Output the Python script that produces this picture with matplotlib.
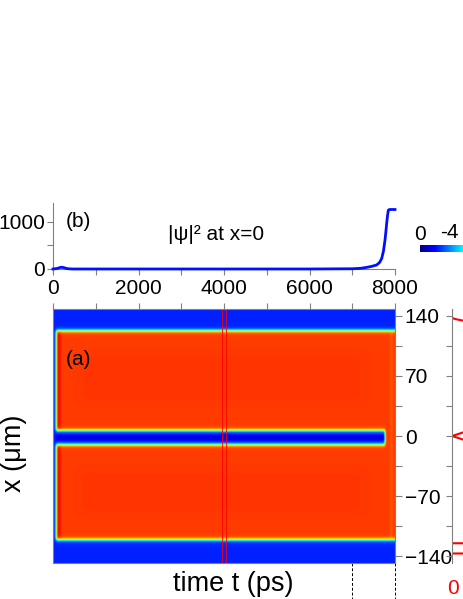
import numpy as np
import matplotlib
matplotlib.use("Agg")
import matplotlib.pyplot as plt
from matplotlib.ticker import MultipleLocator

plt.rcParams['font.family'] = ['Liberation Sans', 'DejaVu Sans']

# ---------------- data ----------------
# panel (b): |psi|^2 at x=0 vs time
t_b = [0, 100, 150, 200, 250, 300, 350, 450, 1000, 2000, 3000, 4000, 5000, 6000,
       7000, 7200, 7340, 7450, 7570, 7640, 7690, 7730, 7766, 7790, 7805, 7825,
       7844, 7870, 8000]
psi_b = [0, 12, 28, 38, 30, 15, 6, 0, 0, 0, 0, 0, 0, 0,
         5, 15, 35, 55, 85, 140, 226, 380, 613, 820, 966, 1130,
         1247, 1262, 1262]

# panel (a): density map features (position x in um, time t in ps)
band_edges_x = [123.0, 6.5, -10.0, -121.0]   # upper-top, upper-bottom, lower-top, lower-bottom
stripe_center_x = -1.8
domain_start_t = 70.0
stripe_end_t = 7770.0
levels = {'background': 0.16, 'domain': 0.845, 'inner': 0.852, 'stripe': 0.08,
          'left_rim': 0.91, 'right_rim': 0.80}
marker_t = [3960, 4040]          # red rectangle on the map
dashed_t = [7000, 8000]          # dashed guide lines below map

# right panel: red profile (position x vs value)
prof_x = [148, 137.5, 136, 134, 131, 125, 10, 6, 4.5, 2, 0, -2, -4.5, -6, -10,
          -124.9, -125, -136.9, -137, -148]
prof_v = [0, 0, 0.4, 1.2, 3, 6, 6, 2.5, 1.1, 0.5, 0, 0.5, 1.1, 2.5, 6,
          6, 0, 0, 6, 6]

y_ticks = [-140, -70, 0, 70, 140]

# ---------------- figure ----------------
W, H = 463, 599
fig = plt.figure(figsize=(W / 100, H / 100), dpi=100)

def box(l, t, r, b):
    return [l / W, (H - b) / H, (r - l) / W, (b - t) / H]

gray = '#808080'
fs = 15

# ---- panel (b)
axb = fig.add_axes(box(53, 203, 395, 269))
axb.plot(t_b, psi_b, color='#0010ff', lw=2.0, clip_on=False, zorder=3)
axb.set_xlim(0, 8000)
axb.set_ylim(0, 1400)
for s in ['top', 'right']:
    axb.spines[s].set_visible(False)
for s in ['left', 'bottom']:
    axb.spines[s].set_color(gray)
    axb.spines[s].set_linewidth(0.8)
axb.xaxis.set_major_locator(MultipleLocator(2000))
axb.xaxis.set_minor_locator(MultipleLocator(1000))
axb.set_yticks([0, 1000])
axb.yaxis.set_minor_locator(MultipleLocator(500))
axb.tick_params(which='both', direction='out', color=gray, length=4, width=0.8,
                labelsize=fs, pad=1.5)
axb.tick_params(axis='x', pad=3.5)
axb.text(0.037, 0.72, '(b)', transform=axb.transAxes, fontsize=fs, va='center')
axb.text(0.335, 0.52, '|ψ|² at x=0', transform=axb.transAxes, fontsize=fs, va='center')

# ---- panel (a)
axa = fig.add_axes(box(53, 309, 395, 563))
t = np.linspace(0, 8000, 801)
x = np.linspace(-148, 148, 700)
T, X = np.meshgrid(t, x)

def step(d, w):
    return 0.5 * (1 + np.tanh(d / w))

wx = 2.3
tstart = step(T - domain_start_t, 28)
up = step(band_edges_x[0] - X, wx) * step(X - band_edges_x[1], wx)
lo = step(band_edges_x[2] - X, wx) * step(X - band_edges_x[3], wx)
# stripe closes near stripe_end_t: the gap fills in
closed = step(T - stripe_end_t, 22)
mid = step(band_edges_x[1] - X, wx) * step(X - band_edges_x[2], wx)
dom = tstart * np.clip(up + lo + mid * closed, 0, 1)

B = levels['background']
D = levels['domain']
field = B + (D - B) * dom
# darker core of the stripe
core = np.exp(-((X - stripe_center_x) / 3.5) ** 2) * mid * (1 - closed) * tstart
field = field - (B - levels['stripe']) * core
# subtle inner shading
inner = step(T - 500, 150) * step(7400 - T, 150) * (
    step(100 - X, 6) * step(X - 35, 6) + step(-35 - X, 6) * step(X + 95, 6))
field = field + (levels['inner'] - D) * inner * dom
# rims
rim_l = np.exp(-((T - 130) / 50) ** 2) * dom
field = field + (levels['left_rim'] - D) * rim_l
rim_r = np.exp(-((T - 7920) / 35) ** 2) * dom
field = field + (levels['right_rim'] - D) * rim_r * 0.6

axa.imshow(field, extent=[0, 8000, -148, 148], origin='lower', aspect='auto',
           cmap='jet', vmin=0, vmax=1, interpolation='bilinear')
axa.set_xlim(0, 8000)
axa.set_ylim(-148, 148)
# red marker rectangle
axa.plot([marker_t[0], marker_t[0], marker_t[1], marker_t[1], marker_t[0]],
         [-148, 148, 148, -148, -148], color='red', lw=0.6)
for s in axa.spines.values():
    s.set_color(gray)
    s.set_linewidth(0.8)
axa.xaxis.set_ticks_position('top')
axa.xaxis.set_major_locator(MultipleLocator(2000))
axa.xaxis.set_minor_locator(MultipleLocator(1000))
axa.tick_params(axis='x', which='both', direction='out', color=gray, length=4,
                width=0.8, labeltop=False, labelbottom=False)
axa.yaxis.set_ticks_position('right')
axa.set_yticks(y_ticks)
axa.yaxis.set_minor_locator(MultipleLocator(35))
axa.tick_params(axis='y', which='both', direction='out', color=gray, length=5,
                width=0.8, labelsize=fs, pad=2, labelright=True, labelleft=False)
axa.text(0.037, 0.80, '(a)', transform=axa.transAxes, fontsize=fs, va='center')
axa.set_ylabel('x (μm)', fontsize=19.5)
axa.yaxis.set_label_position('left')
axa.yaxis.set_label_coords(-0.075, 0.43)
axa.set_xlabel('time t (ps)', fontsize=19.5)
axa.xaxis.set_label_position('bottom')
axa.xaxis.set_label_coords(0.527, -0.03)
axa.xaxis.label.set_va('top')
# dashed guides below the map
for td in dashed_t:
    axa.plot([td, td], [0, -0.16], color='black', lw=0.7, ls=(0, (3, 2)),
             transform=axa.get_xaxis_transform(), clip_on=False)

# ---- right profile panel (cut off)
axr = fig.add_axes(box(452, 309, 560, 563))
axr.plot(prof_v, prof_x, color='red', lw=1.5)
axr.set_xlim(0, 10)
axr.set_ylim(-148, 148)
for s in ['top', 'right', 'bottom']:
    axr.spines[s].set_visible(False)
axr.spines['left'].set_color(gray)
axr.spines['left'].set_linewidth(0.8)
axr.set_xticks([])
axr.set_yticks(y_ticks)
axr.yaxis.set_minor_locator(MultipleLocator(35))
axr.tick_params(axis='y', which='both', direction='out', color=gray, length=4,
                width=0.8, labelleft=False)
fig.text(449 / W, 1 - 232 / H, '-4', fontsize=fs, ha='center', va='center')
fig.text(453 / W, 1 - 588 / H, '0', fontsize=fs, ha='center', va='center', color='red')

# ---- colorbar (cut off at the figure edge: only its low end is visible)
cbar_range = [0.0, 0.37]
cax = fig.add_axes(box(420, 245, 463, 252.5))
cax.imshow(np.linspace(cbar_range[0], cbar_range[1], 128)[None, :], aspect='auto',
           cmap='jet', vmin=0, vmax=1, extent=[0, 1, 0, 1])
cax.axis('off')
fig.text(420 / W, 1 - 235 / H, '0', fontsize=fs, ha='center', va='center')

fig.savefig('out.png', dpi=100)
